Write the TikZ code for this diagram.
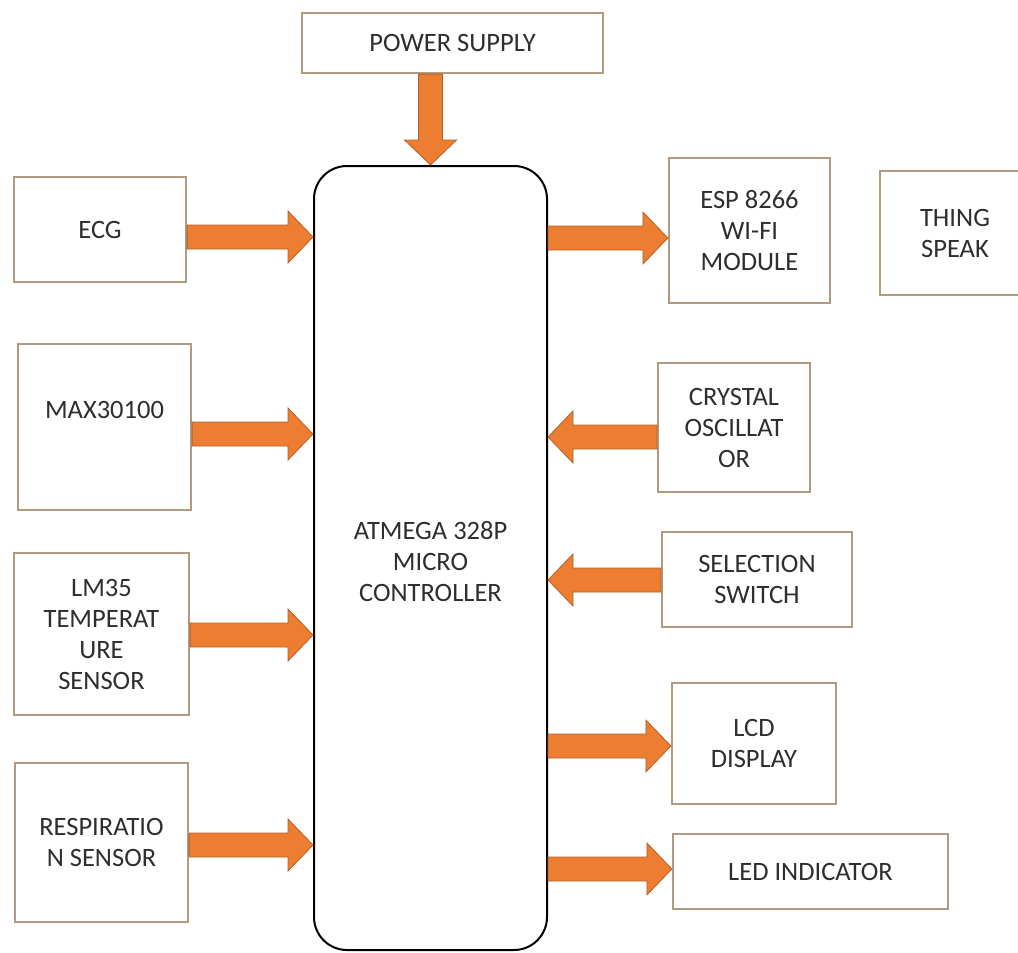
\documentclass[tikz,border=0pt]{standalone}
\usepackage{fontspec}
\setmainfont{Carlito}
\usetikzlibrary{calc}
\definecolor{boxline}{HTML}{B09A80}
\definecolor{arrfill}{HTML}{ED7D31}
\definecolor{arrline}{HTML}{B4612B}
\definecolor{txt}{HTML}{2E2E2E}
\newcommand{\blockarr}[2]{%
  \path ($(#2)!25pt!(#1)$) coordinate (bh);
  \filldraw[blockarrow] ($(#1)!12pt!90:(#2)$) -- ($(bh)!12pt!90:(#2)$) -- ($(bh)!26pt!90:(#2)$) -- (#2) -- ($(bh)!26pt!-90:(#2)$) -- ($(bh)!12pt!-90:(#2)$) -- ($(#1)!12pt!-90:(#2)$) -- cycle;}
\begin{document}
\begin{tikzpicture}[x=1pt,y=-1pt,
  boxtext/.style={text=txt, align=center, font=\fontsize{26.5}{31}\selectfont},
  box/.style={boxtext, draw=boxline, line width=2.2pt, fill=white, inner sep=0pt},
  mcbox/.style={boxtext, draw=black, line width=2pt, fill=white, rounded corners=33pt, inner sep=0pt},
  blockarrow/.style={fill=arrfill, draw=arrline, line width=0.8pt, line join=miter},
]
\useasboundingbox (0,0) rectangle (1018,953);
\fill[white] (0,0) rectangle (1018,953);
\clip (0,0) rectangle (1018,953);

% nodes
\node[box, minimum width=301pt, minimum height=60pt] (pow) at (452.5,43) {POWER SUPPLY};
\node[mcbox, minimum width=233pt, minimum height=784pt, label={[boxtext, yshift=-4pt]center:ATMEGA 328P\\MICRO\\CONTROLLER}] (mc) at (430.5,558) {};
\node[box, minimum width=172pt, minimum height=105pt] (ecg) at (100,229.5) {ECG};
\node[box, minimum width=173pt, minimum height=166pt, label={[boxtext, yshift=17pt]center:MAX30100}] (max) at (104.5,427) {};
\node[box, minimum width=175pt, minimum height=162pt] (lm) at (101.5,634) {LM35\\TEMPERAT\\URE\\SENSOR};
\node[box, minimum width=173pt, minimum height=159pt] (resp) at (101.5,842.5) {RESPIRATIO\\N SENSOR};
\node[box, minimum width=161pt, minimum height=145pt] (esp) at (749.5,230.5) {ESP 8266\\WI-FI\\MODULE};
\node[box, minimum width=150pt, minimum height=124pt] (thing) at (955,233) {THING\\SPEAK};
\node[box, minimum width=152pt, minimum height=129pt] (crys) at (734,427.5) {CRYSTAL\\OSCILLAT\\OR};
\node[box, minimum width=190pt, minimum height=95pt] (sel) at (757,579.5) {SELECTION\\SWITCH};
\node[box, minimum width=164pt, minimum height=121pt] (lcd) at (754,743.5) {LCD\\DISPLAY};
\node[box, minimum width=275pt, minimum height=75pt] (led) at (810.5,871.5) {LED INDICATOR};

% arrow end points
\coordinate (p0s) at (mc.north |- pow.south);
\coordinate (p0e) at (mc.north);
\coordinate (p1s) at (ecg.east |- 0,237);   \coordinate (p1e) at (mc.west |- 0,237);
\coordinate (p2s) at (max.east |- 0,434);   \coordinate (p2e) at (mc.west |- 0,434);
\coordinate (p3s) at (lm.east |- 0,635);    \coordinate (p3e) at (mc.west |- 0,635);
\coordinate (p4s) at (resp.east |- 0,845);  \coordinate (p4e) at (mc.west |- 0,845);
\coordinate (p5s) at (mc.east |- 0,238);    \coordinate (p5e) at (esp.west |- 0,238);
\coordinate (p6s) at (crys.west |- 0,437);  \coordinate (p6e) at (mc.east |- 0,437);
\coordinate (p7s) at (sel.west |- 0,580);   \coordinate (p7e) at (mc.east |- 0,580);
\coordinate (p8s) at (mc.east |- 0,746);    \coordinate (p8e) at (lcd.west |- 0,746);
\coordinate (p9s) at (mc.east |- 0,869);    \coordinate (p9e) at (led.west |- 0,869);

\blockarr{p0s}{p0e}
\blockarr{p1s}{p1e}
\blockarr{p2s}{p2e}
\blockarr{p3s}{p3e}
\blockarr{p4s}{p4e}
\blockarr{p5s}{p5e}
\blockarr{p6s}{p6e}
\blockarr{p7s}{p7e}
\blockarr{p8s}{p8e}
\blockarr{p9s}{p9e}
\end{tikzpicture}
\end{document}
